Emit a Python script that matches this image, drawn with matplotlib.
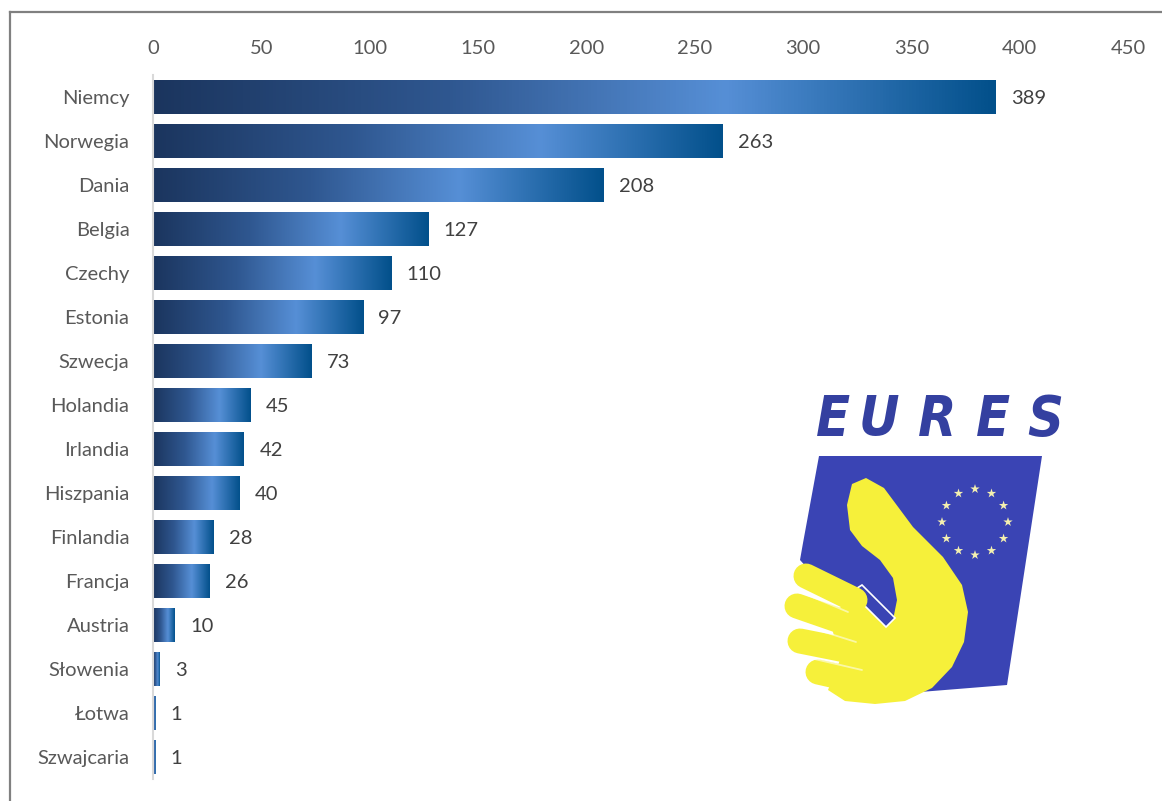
import numpy as np
import matplotlib
matplotlib.use("Agg")
import matplotlib.pyplot as plt
from matplotlib.colors import LinearSegmentedColormap
from matplotlib.patches import Polygon
from matplotlib.lines import Line2D

countries = ["Niemcy", "Norwegia", "Dania", "Belgia", "Czechy", "Estonia", "Szwecja",
             "Holandia", "Irlandia", "Hiszpania", "Finlandia", "Francja", "Austria",
             "Słowenia", "Łotwa", "Szwajcaria"]
values = [389, 263, 208, 127, 110, 97, 73, 45, 42, 40, 28, 26, 10, 3, 1, 1]
ticks = [0, 50, 100, 150, 200, 250, 300, 350, 400, 450]

plt.rcParams['font.family'] = ['Lato', 'DejaVu Sans']

fig = plt.figure(figsize=(11.62, 8.01), dpi=100)
ax = fig.add_axes([0.1317, 0.0275, 0.839, 0.879])

grad = LinearSegmentedColormap.from_list(
    "bar", [(0, "#1b355e"), (0.35, "#2f5790"), (0.68, "#568fd6"), (1.0, "#02508b")])

y = np.arange(len(countries))
bars = ax.barh(y, values, height=0.78, color="none", edgecolor="none")
g = np.linspace(0, 1, 256).reshape(1, -1)
for b in bars:
    x0, y0 = b.get_x(), b.get_y()
    w, h = b.get_width(), b.get_height()
    im = ax.imshow(g, cmap=grad, aspect="auto", extent=(x0, x0 + w, y0 + h, y0),
                   interpolation="bicubic", zorder=2)
    im.set_clip_path(b)

for yi, v in zip(y, values):
    ax.annotate(str(v), (v, yi), xytext=(11, -1), textcoords="offset points",
                va="center", ha="left", fontsize=14.5, color="#404040")

ax.set_xlim(0, 450)
ax.set_ylim(len(countries) - 0.5, -0.5)
ax.set_xticks(ticks)
ax.xaxis.tick_top()
ax.set_yticks(y)
ax.set_yticklabels(countries)
ax.tick_params(axis="x", length=0, pad=13, labelsize=14.5, labelcolor="#595959")
ax.tick_params(axis="y", length=0, pad=17, labelsize=14.5, labelcolor="#595959")
for s in ["top", "right", "bottom"]:
    ax.spines[s].set_visible(False)
ax.spines["left"].set_color("#d9d9d9")
ax.spines["left"].set_linewidth(1.5)
ax.spines["left"].set_zorder(3)
ax.set_facecolor("none")

# outer frame (top and left only visible)
fig.add_artist(Line2D([10 / 1162, 1.0], [1 - 12 / 801] * 2, color="#808080", lw=1.6))
fig.add_artist(Line2D([10 / 1162] * 2, [0.0, 1 - 12 / 801], color="#808080", lw=1.6))

# EURES logo, drawn in pixel coordinates
lax = fig.add_axes([0, 0, 1, 1])
lax.set_xlim(0, 1162)
lax.set_ylim(801, 0)
lax.axis("off")
lax.set_zorder(-1)

blue = "#3a44b4"
yellow = "#f6f03a"
lax.add_patch(Polygon([(819, 456), (1042, 456), (1007, 685), (920, 692), (800, 560), (803, 543)],
                      closed=True, facecolor=blue, edgecolor="none"))

# fingers (round-capped strokes)
fingers = [[(806, 576), (855, 600)], [(797, 606), (872, 632)],
           [(800, 641), (880, 657)], [(818, 672), (880, 686)]]
for seg in fingers:
    xs, ys = zip(*seg)
    lax.plot(xs, ys, color=yellow, lw=18, solid_capstyle="round")

hand = [(852, 484), (866, 478), (884, 488), (913, 527), (943, 557), (962, 585), (968, 612),
        (964, 642), (952, 667), (932, 688), (905, 701), (875, 704), (845, 701), (828, 690),
        (840, 660), (830, 620), (850, 596), (862, 586), (876, 600),
        (893, 620), (897, 600), (893, 578), (880, 560), (862, 546), (850, 530), (847, 505)]
lax.add_patch(Polygon(hand, closed=True, facecolor=yellow, edgecolor="none"))
lax.add_patch(Polygon([(851, 592), (862, 585), (895, 618), (886, 627)], closed=True,
                      facecolor=blue, edgecolor="white", lw=1.2))
for seg in [[(798, 591), (848, 612)], [(799, 624), (856, 642)], [(810, 658), (862, 670)]]:
    xs, ys = zip(*seg)
    lax.plot(xs, ys, color="white", lw=1.3, alpha=0.55, solid_capstyle="round")

ang = np.arange(12) * np.pi / 6
lax.scatter(975 + 33 * np.cos(ang), 522 + 33 * np.sin(ang), marker="*", s=50,
            color="#f4f0b0", edgecolors="none")

for ch, cx in zip("EURES", [833, 879, 937, 993, 1045]):
    lax.text(cx, 420, ch, fontsize=40, style="italic", weight="semibold", stretch="condensed",
             color="#3440a0", ha="center", va="center", family=["DejaVu Sans"])

fig.savefig("out.png", dpi=100)
